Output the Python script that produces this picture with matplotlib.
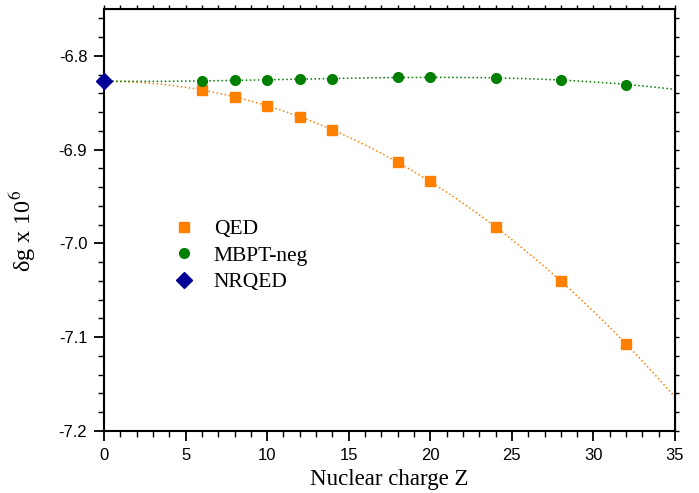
import matplotlib
matplotlib.use('Agg')
import matplotlib.pyplot as plt
import numpy as np
from matplotlib.ticker import MultipleLocator

plt.rcParams['mathtext.fontset'] = 'stix'

# data
Z_qed = [6, 8, 10, 12, 14, 18, 20, 24, 28, 32]
dg_qed = [-6.8366, -6.8437, -6.8533, -6.8647, -6.8786, -6.9136, -6.9339, -6.9828, -7.0400, -7.1072]

Z_mbpt = [6, 8, 10, 12, 14, 18, 20, 24, 28, 32]
dg_mbpt = [-6.8266, -6.8259, -6.8256, -6.8249, -6.8241, -6.8230, -6.8230, -6.8234, -6.8256, -6.8305]

Z_nrqed = [0]
dg_nrqed = [-6.8270]

orange = '#FF8000'
green = '#008000'
navy = '#000099'

fig = plt.figure(figsize=(6.99, 4.93), dpi=100)
ax = fig.add_axes([0.1488, 0.1258, 0.8169, 0.8559])

# dotted fit curves through the NRQED limit and the data points
zz = np.linspace(0, 35, 300)
for zs, ds, c in [(Z_qed, dg_qed, orange), (Z_mbpt, dg_mbpt, green)]:
    p = np.polyfit(Z_nrqed + zs, dg_nrqed + ds, 3)
    ax.plot(zz, np.polyval(p, zz), ':', color=c, lw=1.1)

ax.plot(Z_qed, dg_qed, 's', color=orange, ms=7, ls='none', label='QED')
ax.plot(Z_mbpt, dg_mbpt, 'o', color=green, ms=7, ls='none', label='MBPT-neg')
ax.plot(Z_nrqed, dg_nrqed, 'D', color=navy, ms=8, ls='none', label='NRQED',
        clip_on=False, zorder=5)

ax.set_xlim(0, 35)
ax.set_ylim(-7.2, -6.75)
ax.xaxis.set_major_locator(MultipleLocator(5))
ax.xaxis.set_minor_locator(MultipleLocator(1))
ax.yaxis.set_major_locator(MultipleLocator(0.1))
ax.yaxis.set_minor_locator(MultipleLocator(0.02))
ax.yaxis.set_major_formatter(matplotlib.ticker.FormatStrFormatter('%.1f'))

for s in ax.spines.values():
    s.set_linewidth(1.5)
ax.tick_params(which='major', direction='out', length=7, width=1.3,
               labelsize=12, pad=5)
ax.tick_params(which='minor', direction='out', length=4, width=1.0)
for lab in ax.get_xticklabels() + ax.get_yticklabels():
    lab.set_family('Liberation Sans')

sx = ax.secondary_xaxis('top')
sx.xaxis.set_major_locator(MultipleLocator(1))
sx.tick_params(direction='out', length=3, width=1.0, labeltop=False)
sy = ax.secondary_yaxis('right')
sy.yaxis.set_major_locator(MultipleLocator(0.02))
sy.tick_params(direction='out', length=3, width=1.0, labelright=False)

ax.set_xlabel('Nuclear charge Z', family='Liberation Serif', fontsize=16.5)
ax.xaxis.set_label_coords(0.5, -0.091)
ax.set_ylabel('δg x 10$^{6}$', family='Liberation Serif', fontsize=17.5)
ax.yaxis.set_label_coords(-0.116, 0.474)

leg = ax.legend(loc='upper left', bbox_to_anchor=(0.083, 0.548), frameon=False,
                prop={'family': 'Liberation Serif', 'size': 15.5},
                handletextpad=0.8, labelspacing=0.3, handlelength=1.2)

fig.savefig('out.png', dpi=100)
